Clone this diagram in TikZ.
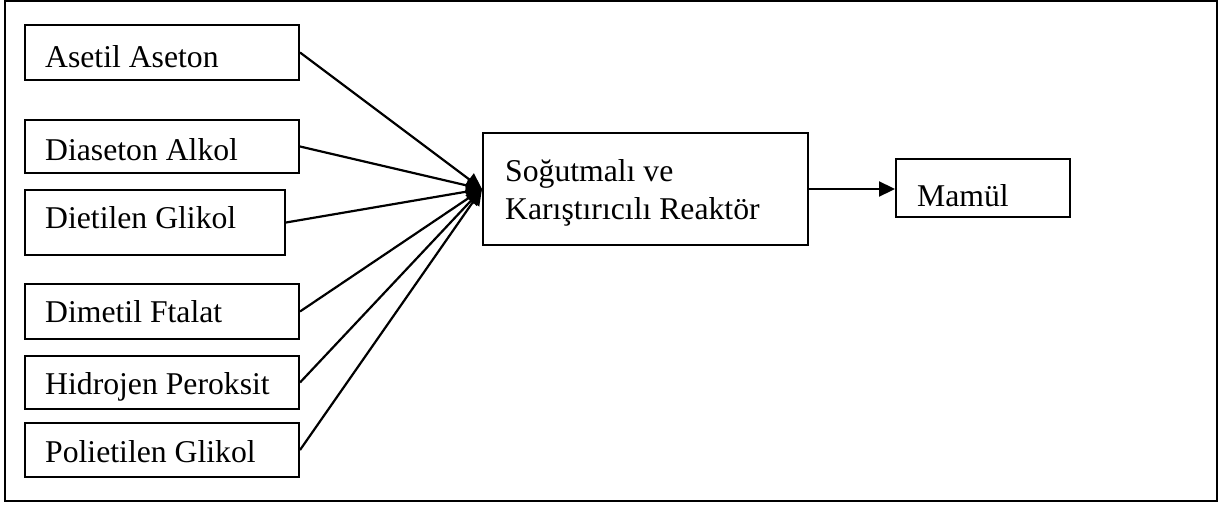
\documentclass[tikz,border=0pt]{standalone}
\usepackage{fontspec}
\setmainfont{Liberation Serif}
\usetikzlibrary{arrows.meta}
\begin{document}
\begin{tikzpicture}[x=1pt,y=-1pt,
  box/.style={draw,line width=2pt,inner sep=0pt},
  lbl/.style={anchor=base west,inner sep=0pt,font=\fontsize{31.7}{38}\selectfont},
  feed/.style={line width=2.2pt,-{Triangle[length=16pt,width=15pt]}}]
\useasboundingbox (0,0) rectangle (1230,506);
% outer frame
\draw[line width=2pt] (5,1) rectangle (1217,501);

% raw material boxes
\node[box,minimum width=274pt,minimum height=55pt] (b1) at (162,52.5) {};
\node[box,minimum width=274pt,minimum height=53pt] (b2) at (162,146.5) {};
\node[box,minimum width=260pt,minimum height=65pt] (b3) at (155,222.5) {};
\node[box,minimum width=274pt,minimum height=55pt] (b4) at (162,311.5) {};
\node[box,minimum width=274pt,minimum height=53pt] (b5) at (162,382.5) {};
\node[box,minimum width=274pt,minimum height=54pt] (b6) at (162,450) {};

\node[lbl] (t1) at (45,67) {Asetil Aseton};
\node[lbl] (t2) at (45,160) {Diaseton Alkol};
\node[lbl] (t3) at (45,228) {Dietilen Glikol};
\node[lbl] (t4) at (45,322) {Dimetil Ftalat};
\node[lbl] (t5) at (45,394) {Hidrojen Peroksit};
\node[lbl] (t6) at (45,462) {Polietilen Glikol};

% reactor
\node[box,minimum width=325pt,minimum height=112pt] (r) at (645.5,189) {};
\node[lbl] (rt1) at (505,181) {Soğutmalı ve};
\node[lbl] (rt2) at (505,219) {Karıştırıcılı Reaktör};

% product
\node[box,minimum width=174pt,minimum height=58pt] (m) at (983,188) {};
\node[lbl] (mt) at (917,206) {Mamül};

% feed lines into the reactor
\foreach \b in {b1,b2,b3,b4,b5,b6}
  \draw[feed] (\b.east) -- (r.west);
\draw[feed] (r.east) -- (r.east -| m.west);
\end{tikzpicture}
\end{document}
